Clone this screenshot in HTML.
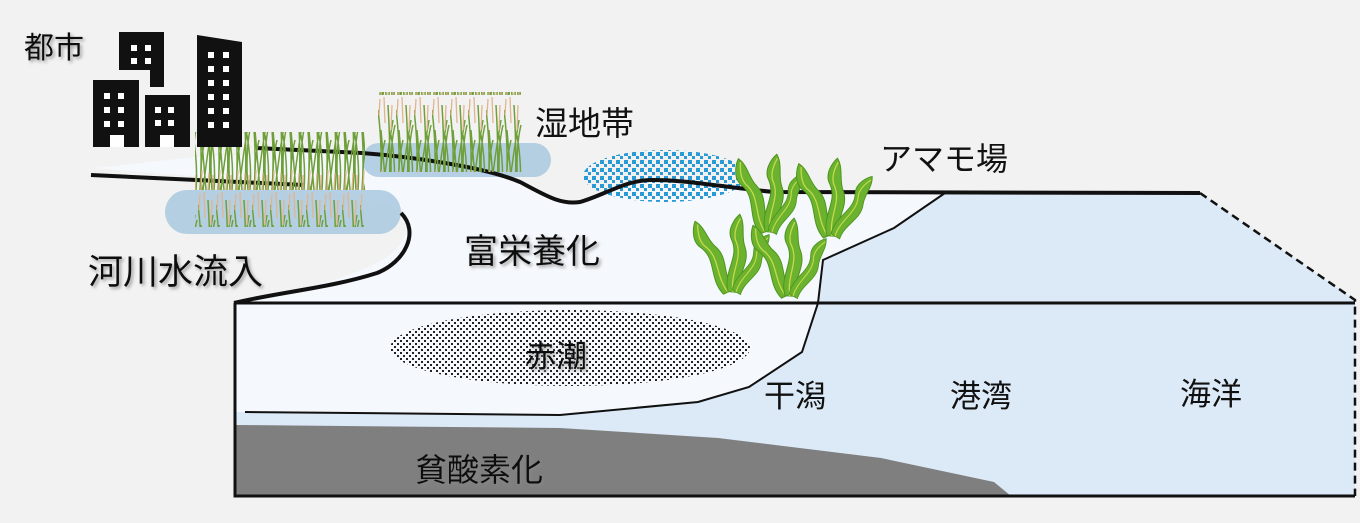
<!DOCTYPE html>
<html><head><meta charset="utf-8"><style>
html,body{margin:0;padding:0;background:#f2f2f2;}
svg{display:block}
text{font-family:"Liberation Sans","Noto Sans CJK JP",sans-serif;fill:#111;}
</style></head><body>
<svg width="1360" height="523" viewBox="0 0 1360 523" xmlns="http://www.w3.org/2000/svg">
<defs>
<pattern id="dots" width="6" height="6" patternUnits="userSpaceOnUse"><rect x="1" y="1" width="2" height="2" fill="#222"/><rect x="4" y="4" width="2" height="2" fill="#222"/></pattern>
<pattern id="bdots" width="8" height="8" patternUnits="userSpaceOnUse"><rect x="0" y="0" width="4" height="4" fill="#2a9ad6"/><rect x="4" y="4" width="3" height="3" fill="#2a9ad6"/></pattern>
<pattern id="grass" width="18" height="95" patternUnits="userSpaceOnUse">
<path d="M2,95 Q5,55 0,15 M5,95 Q9,60 15,25 M8,95 Q5,60 3,35 M11,95 Q13,60 10,10 M14,95 Q11,55 17,30 M16,95 Q18,70 13,40 M4,95 Q1,70 7,45" stroke="#6e9f3a" stroke-width="1.5" fill="none"/>
<path d="M3,95 L4,75 M10,95 L11,78 M15,95 L15,80 M7,28 L6,2 M13,35 L14,10 M1,20 L2,4" stroke="#e2b48e" stroke-width="1.3" fill="none"/>
</pattern>
<filter id="sh"><feDropShadow dx="2" dy="2" stdDeviation="1.5" flood-color="#888" flood-opacity="0.8"/></filter>
<g id="leaf">
<path d="M-5,0 C-12,-20 4,-35 -6,-52 C-12,-62 -4,-74 0,-78 C7,-68 3,-56 8,-46 C15,-30 2,-18 6,0 Z" fill="#6bb32e" stroke="#4e9420" stroke-width="1"/>
<path d="M0,0 C-5,-20 8,-35 -2,-52 C-5,-60 -1,-70 1,-74" stroke="#c5d94a" stroke-width="1.3" fill="none"/>
</g>
</defs>
<rect width="1360" height="523" fill="#f2f2f2"/>
<path d="M95,168 L195,157 L360,150 C430,158 500,170 540,190 C560,200 575,205 598,197 C620,185 640,178 680,180 C720,186 760,192 945,195 L894,228 L823,260 L818,303 L235,303 C300,290 370,275 395,250 C412,232 410,215 401,208 L300,185 Z" fill="#f5f8fc"/>
<path d="M945,193 L1200,193 L1355,300 L1355,496 L235,496 L235,412 L245,412 L560,415 L698,402 L749,387 L802,352 L818,303 L823,260 L894,228 Z" fill="#dce9f6"/>
<path d="M235,303 L818,303 L802,352 L749,387 L698,402 L560,415 L245,412 L235,412 Z" fill="#f5f8fc"/>
<path d="M235,425 L560,428 L718,438 L881,458 L994,482 L1011,496 L235,496 Z" fill="#7f7f7f"/>
<path d="M245,412 L560,415 L698,402 L749,387 L802,352 L818,303 L823,260 L894,228 L945,193" stroke="#111" stroke-width="2" fill="none"/>
<path d="M235,303 L1355,303 M235,303 L235,496 L1355,496" stroke="#111" stroke-width="3" fill="none"/>
<path d="M1200,193 L1355,300 L1355,496" stroke="#111" stroke-width="2.5" stroke-dasharray="8,5" fill="none"/>
<ellipse cx="570" cy="348" rx="180" ry="38" fill="url(#dots)"/>
<ellipse cx="665" cy="176" rx="82" ry="26" fill="url(#bdots)"/>
<rect x="165" y="190" width="236" height="44" rx="22" fill="#a9c9df" opacity="0.85"/>
<rect x="362" y="143" width="189" height="34" rx="17" fill="#a9c9df" opacity="0.85"/>
<path d="M91,175 L304,185 M256,148 L362,153 C400,156 480,165 520,182 C545,195 560,205 580,202 C605,195 625,180 652,180 C690,180 720,187 774,192 L1200,193" stroke="#111" stroke-width="4" fill="none"/>
<path d="M401,213 C420,232 405,262 377,273 C330,288 280,292 234,303" stroke="#111" stroke-width="4" fill="none"/>
<rect x="195" y="132" width="170" height="95" fill="url(#grass)"/>
<rect x="378" y="92" width="144" height="80" fill="url(#grass)"/>
<g fill="#111">
<rect x="93" y="80" width="46" height="67"/>
<path d="M119,32 H164 V87 H150 V70 H119 Z"/>
<rect x="145" y="95" width="45" height="52"/>
<path d="M197,35 L242,42 V147 H197 Z"/>
</g>
<g fill="#fff">
<rect x="104" y="93" width="6" height="6"/><rect x="118" y="93" width="6" height="6"/>
<rect x="104" y="107" width="6" height="6"/><rect x="118" y="107" width="6" height="6"/>
<rect x="104" y="121" width="6" height="6"/><rect x="118" y="121" width="6" height="6"/>
<rect x="110" y="135" width="14" height="12"/>
<rect x="131" y="45" width="6" height="6"/><rect x="145" y="45" width="6" height="6"/>
<rect x="131" y="58" width="6" height="6"/><rect x="145" y="58" width="6" height="6"/>
<rect x="155" y="107" width="6" height="6"/><rect x="168" y="107" width="6" height="6"/>
<rect x="155" y="120" width="6" height="6"/><rect x="168" y="120" width="6" height="6"/>
<rect x="160" y="135" width="14" height="12"/>
<rect x="208" y="52" width="6" height="6"/><rect x="223" y="52" width="6" height="6"/>
<rect x="208" y="66" width="6" height="6"/><rect x="223" y="66" width="6" height="6"/>
<rect x="208" y="80" width="6" height="6"/><rect x="223" y="80" width="6" height="6"/>
<rect x="208" y="94" width="6" height="6"/><rect x="223" y="94" width="6" height="6"/>
<rect x="208" y="108" width="6" height="6"/><rect x="223" y="108" width="6" height="6"/>
<rect x="208" y="122" width="6" height="6"/><rect x="223" y="122" width="6" height="6"/>
</g>
<!-- seagrass -->
<use href="#leaf" transform="translate(765,232) rotate(-20)"/>
<use href="#leaf" transform="translate(770,232) rotate(5)"/>
<use href="#leaf" transform="translate(772,232) rotate(28) scale(0.85)"/>
<use href="#leaf" transform="translate(828,236) rotate(-22)"/>
<use href="#leaf" transform="translate(832,236) rotate(4)"/>
<use href="#leaf" transform="translate(835,236) rotate(32) scale(0.9)"/>
<use href="#leaf" transform="translate(728,292) rotate(-25)"/>
<use href="#leaf" transform="translate(733,292) rotate(5)"/>
<use href="#leaf" transform="translate(736,292) rotate(30) scale(0.85)"/>
<use href="#leaf" transform="translate(786,296) rotate(-25)"/>
<use href="#leaf" transform="translate(790,296) rotate(3)"/>
<use href="#leaf" transform="translate(793,296) rotate(30) scale(0.85)"/>
<g filter="url(#sh)">
<text x="24" y="58" font-size="30">都市</text>
<text x="88" y="284" font-size="35">河川水流入</text>
<text x="464" y="263" font-size="34">富栄養化</text>
<text x="525" y="367" font-size="31">赤潮</text>
<text x="415" y="481" font-size="32">貧酸素化</text>
</g>
<text x="535" y="135" font-size="33">湿地帯</text>
<text x="880" y="170" font-size="32">アマモ場</text>
<text x="764" y="407" font-size="31">干潟</text>
<text x="950" y="407" font-size="31">港湾</text>
<text x="1180" y="405" font-size="31">海洋</text>
</svg>
</body></html>
